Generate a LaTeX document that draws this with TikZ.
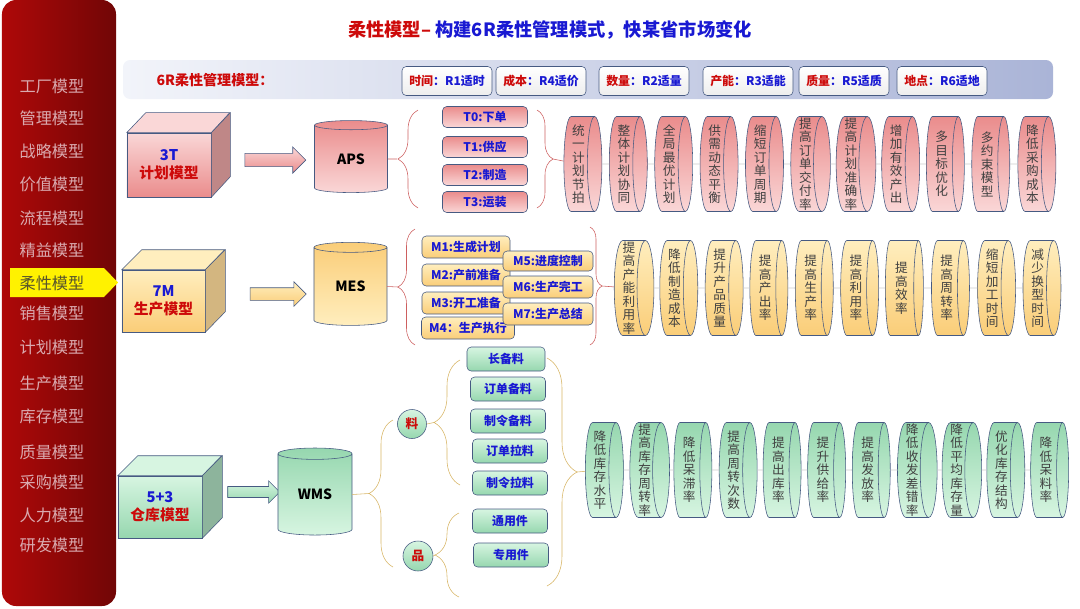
\documentclass[tikz,border=0pt]{standalone}
\usepackage{fontspec}
\setmainfont{Noto Sans CJK SC}
\XeTeXlinebreaklocale "zh"
\XeTeXlinebreakskip=0pt plus 1pt
\usetikzlibrary{shapes.geometric,shapes.arrows,decorations.pathreplacing}

\definecolor{rim}{RGB}{70,90,130}
\definecolor{inkblue}{RGB}{25,25,210}
\definecolor{inkred}{RGB}{205,10,10}
\definecolor{pinkhi}{RGB}{250,215,215}
\definecolor{pinklo}{RGB}{234,140,140}
\definecolor{yelhi}{RGB}{255,238,190}
\definecolor{yello}{RGB}{250,205,120}
\definecolor{grnhi}{RGB}{215,245,225}
\definecolor{grnlo}{RGB}{150,215,175}
\definecolor{khaki}{RGB}{215,180,100}
\definecolor{rosy}{RGB}{205,95,95}
\definecolor{menutext}{RGB}{218,170,175}
\definecolor{barhi}{RGB}{242,244,250}
\definecolor{barlo}{RGB}{170,180,215}

\tikzset{
  menu/.style={text=menutext, font=\fontsize{11.5}{12}\selectfont},
  face/.style={draw=rim, inner sep=0pt, align=center, font=\bfseries\fontsize{10.5}{13}\selectfont},
  store/.style={cylinder, shape border rotate=90, draw=rim, aspect=0.33, inner sep=0pt, font=\bfseries\fontsize{10}{12}\selectfont},
  push/.style={single arrow, draw=rim, inner sep=0pt},
  tag/.style={draw=rim, rounded corners=3pt, inner sep=0pt, text=inkblue, font=\bfseries\fontsize{8.5}{10}\selectfont},
  rbox/.style={tag, top color=white, bottom color=black!7, minimum width=2.25cm, minimum height=0.725cm},
  knob/.style={circle, draw=rim, inner sep=0pt, minimum size=0.725cm, top color=grnhi, bottom color=grnlo, text=inkred, font=\bfseries\fontsize{9}{10}\selectfont},
  goal/.style={cylinder, draw=rim, aspect=0.18, inner sep=0.5pt, minimum height=0.95cm, minimum width=2.375cm, text width=1em, align=center, text=black!75, font=\fontsize{9}{9.6}\selectfont},
  joint/.style={black!20, thin},
  redbrace/.style={draw=rosy, decorate, decoration={brace, amplitude=#1}},
  tanbrace/.style={draw=khaki, decorate, decoration={brace, amplitude=#1}},
}

\begin{document}
\begin{tikzpicture}[x=0.025cm, y=-0.025cm]
\useasboundingbox (0,0) rectangle (1080,608);
% side menu
\shade[left color=inkred!85!black, right color=inkred!55!black, rounded corners=10pt] (2,0) rectangle (116,606);
\fill[yellow] (10,268) -- (104,268) -- (118,282.5) -- (104,297) -- (10,297) -- cycle;
\foreach \y/\txt [count=\i] in {86/工厂模型, 118/管理模型, 151/战略模型, 184/价值模型, 218/流程模型, 250/精益模型, 313/销售模型, 347/计划模型, 383/生产模型, 416/库存模型, 452/质量模型, 482/采购模型, 515/人力模型, 545/研发模型}
  \node[menu] (s\i) at (52,\y) {\txt};
\node[menu, text=olive!50!black] (cur) at (52,283) {柔性模型};

% title and 6R bar
\node[font=\bfseries\fontsize{13}{15}\selectfont] (title) at (550,30) {\textcolor{inkred}{柔性模型–} \textcolor{inkblue}{构建6R柔性管理模式，快某省市场变化}};
\shade[left color=barhi, right color=barlo, rounded corners=5pt] (123,60) rectangle (1053,99);
\node[text=inkred, font=\bfseries\fontsize{10}{11}\selectfont] (r0) at (215,80) {6R柔性管理模型：};
\node[rbox] (r1) at (447,81) {\textcolor{inkred}{时间}：R1适时};
\node[rbox] (r2) at (541,81) {\textcolor{inkred}{成本}：R4适价};
\node[rbox] (r3) at (644,81) {\textcolor{inkred}{数量}：R2适量};
\node[rbox] (r4) at (748,81) {\textcolor{inkred}{产能}：R3适能};
\node[rbox] (r5) at (844,81) {\textcolor{inkred}{质量}：R5适质};
\node[rbox] (r6) at (942,81) {\textcolor{inkred}{地点}：R6适地};

% plan row
\node[face, top color=pinkhi, bottom color=pinklo, minimum width=2.1cm, minimum height=1.6cm] (plan) at (169,165) {\textcolor{inkblue}{3T}\\\textcolor{inkred}{计划模型}};
\filldraw[draw=rim, fill=pinkhi] (plan.north west) -- ++(19,-20) -- ++(84,0) -- (plan.north east) -- cycle;
\filldraw[draw=rim, fill=pinklo!75!black!80] (plan.north east) -- ++(19,-20) -- ++(0,64) -- (plan.south east) -- cycle;
\node[push, top color=pinkhi, bottom color=pinklo, minimum height=1.525cm, inner ysep=0.16cm, single arrow head extend=0.16cm] (a1) at (272,160) {};
\node[store, top color=pinklo, bottom color=pinkhi, minimum width=1.825cm, minimum height=1.8cm] (aps) at (351,159) {APS};
\coordinate (tl) at (397,159);
\coordinate (tr) at (553,159);
\draw[redbrace=0.5cm] (418,208) -- (418,110);
\draw[rosy] (aps.east) -- (tl);
\node[tag, top color=pinklo, bottom color=pinkhi, minimum width=2.125cm, minimum height=0.525cm] (t0) at (485,117) {T0:下单};
\node[tag, top color=pinklo, bottom color=pinkhi, minimum width=2.125cm, minimum height=0.525cm] (t1) at (485,147) {T1:供应};
\node[tag, top color=pinklo, bottom color=pinkhi, minimum width=2.125cm, minimum height=0.525cm] (t2) at (485,175) {T2:制造};
\node[tag, top color=pinklo, bottom color=pinkhi, minimum width=2.125cm, minimum height=0.525cm] (t3) at (485,202) {T3:运装};
\draw[redbrace=0.4cm] (537,110) -- (537,208);
\foreach \txt [count=\i] in {统一计划节拍, 整体计划协同, 全局最优计划, 供需动态平衡, 缩短订单周期, 提高订单交付率, 提高计划准确率, 增加有效产出, 多目标优化, 多约束模型, 降低采购成本}
  \node[goal, top color=pinklo, bottom color=pinkhi] (p\i) at ({578.5+45.4*(\i-1)},164) {\txt};
\draw[rosy] (tr) -- (p1);
\foreach \i [count=\j from 2] in {1,...,10}
  \draw[joint] (p\i) -- (p\j);

% make row
\node[face, top color=yelhi, bottom color=yello, minimum width=2.075cm, minimum height=1.55cm] (make) at (163.5,301) {\textcolor{inkblue}{7M}\\\textcolor{inkred}{生产模型}};
\filldraw[draw=rim, fill=yelhi] (make.north west) -- ++(20,-20) -- ++(83,0) -- (make.north east) -- cycle;
\filldraw[draw=rim, fill=yello!80!black!80] (make.north east) -- ++(20,-20) -- ++(0,62) -- (make.south east) -- cycle;
\node[push, top color=yelhi, bottom color=yello, minimum height=1.4cm, inner ysep=0.15cm, single arrow head extend=0.15cm] (a2) at (275,294) {};
\node[store, top color=yello, bottom color=yelhi, minimum width=1.825cm, minimum height=2.075cm] (mes) at (350.5,286.5) {MES};
\coordinate (ml) at (398,287);
\coordinate (mr) at (602,286);
\draw[redbrace=0.425cm] (415,345) -- (415,229);
\draw[rosy] (mes.east) -- (ml);
\node[tag, top color=yelhi, bottom color=yello, minimum width=2.2cm, minimum height=0.55cm] (m1) at (466,247) {M1:生成计划};
\node[tag, top color=yelhi, bottom color=yello, minimum width=2.2cm, minimum height=0.55cm] (m2) at (466,275) {M2:产前准备};
\node[tag, top color=yelhi, bottom color=yello, minimum width=2.2cm, minimum height=0.55cm] (m3) at (466,303) {M3:开工准备};
\node[tag, top color=yelhi, bottom color=yello, minimum width=2.325cm, minimum height=0.55cm] (m4) at (468,328) {M4：生产执行};
\node[tag, top color=yelhi, bottom color=yello, minimum width=2.25cm, minimum height=0.5cm] (m5) at (548,261) {M5:进度控制};
\node[tag, top color=yelhi, bottom color=yello, minimum width=2.25cm, minimum height=0.55cm] (m6) at (548,287) {M6:生产完工};
\node[tag, top color=yelhi, bottom color=yello, minimum width=2.25cm, minimum height=0.55cm] (m7) at (548,314) {M7:生产总结};
\draw[redbrace=0.3cm] (590,227) -- (590,345);
\foreach \txt [count=\i] in {提高产能利用率, 降低制造成本, 提升产品质量, 提高产出率, 提高生产率, 提高利用率, 提高效率, 提高周转率, 缩短加工时间, 减少换型时间}
  \node[goal, top color=yelhi, bottom color=yello] (y\i) at ({629+45.4*(\i-1)},288) {\txt};
\draw[rosy] (mr) -- (y1);
\foreach \i [count=\j from 2] in {1,...,9}
  \draw[joint] (y\i) -- (y\j);

% store row
\node[face, top color=grnhi, bottom color=grnlo, minimum width=2.1cm, minimum height=1.55cm] (ware) at (160,507) {\textcolor{inkblue}{5+3}\\\textcolor{inkred}{仓库模型}};
\filldraw[draw=rim, fill=grnhi] (ware.north west) -- ++(20,-20) -- ++(84,0) -- (ware.north east) -- cycle;
\filldraw[draw=rim, fill=grnlo!75!black!80] (ware.north east) -- ++(20,-20) -- ++(0,62) -- (ware.south east) -- cycle;
\node[push, top color=grnhi, bottom color=grnlo, minimum height=1.3cm, inner ysep=0.13cm, single arrow head extend=0.14cm] (a3) at (251,492) {};
\node[store, top color=grnlo, bottom color=grnhi, minimum width=1.85cm, minimum height=2.175cm] (wms) at (315,494.5) {WMS};
\node[knob] (liao) at (412,424) {料};
\node[knob, minimum size=0.75cm] (pin) at (418,556) {品};
\coordinate (wl) at (369,493.5);
\coordinate (ll) at (434,422.5);
\coordinate (pl) at (435,555);
\coordinate (gr) at (577,472);
\draw[tanbrace=0.6cm] (393,567) -- (393,420);
\draw[khaki] (wms.east) -- (wl);
\draw[tanbrace=0.65cm] (460,485) -- (460,360);
\draw[khaki] (liao.east) -- (ll);
\draw[tanbrace=0.6cm] (459,597) -- (459,513);
\draw[khaki] (pin.east) -- (pl);
\node[tag, top color=grnhi, bottom color=grnlo, minimum width=1.95cm, minimum height=0.6cm] (w1) at (506,359) {长备料};
\node[tag, top color=grnhi, bottom color=grnlo, minimum width=1.875cm, minimum height=0.6cm] (w2) at (508,389) {订单备料};
\node[tag, top color=grnhi, bottom color=grnlo, minimum width=1.875cm, minimum height=0.6cm] (w3) at (508,421) {制令备料};
\node[tag, top color=grnhi, bottom color=grnlo, minimum width=1.875cm, minimum height=0.6cm] (w4) at (510,451) {订单拉料};
\node[tag, top color=grnhi, bottom color=grnlo, minimum width=1.875cm, minimum height=0.6cm] (w5) at (510,483) {制令拉料};
\node[tag, top color=grnhi, bottom color=grnlo, minimum width=1.875cm, minimum height=0.6cm] (w6) at (510,521) {通用件};
\node[tag, top color=grnhi, bottom color=grnlo, minimum width=1.875cm, minimum height=0.6cm] (w7) at (511,555) {专用件};
\draw[tanbrace=0.75cm] (547,358) -- (547,586);
\foreach \txt [count=\i] in {降低库存水平, 提高库存周转率, 降低呆滞率, 提高周转次数, 提高出库率, 提升供给率, 提高发放率, 降低收发差错率, 降低平均库存量, 优化库存结构, 降低呆料率}
  \node[goal, top color=grnlo, bottom color=grnhi] (g\i) at ({600+44.6*(\i-1)},470) {\txt};
\draw[khaki] (gr) -- (g1);
\foreach \i [count=\j from 2] in {1,...,10}
  \draw[joint] (g\i) -- (g\j);
\end{tikzpicture}
\end{document}
